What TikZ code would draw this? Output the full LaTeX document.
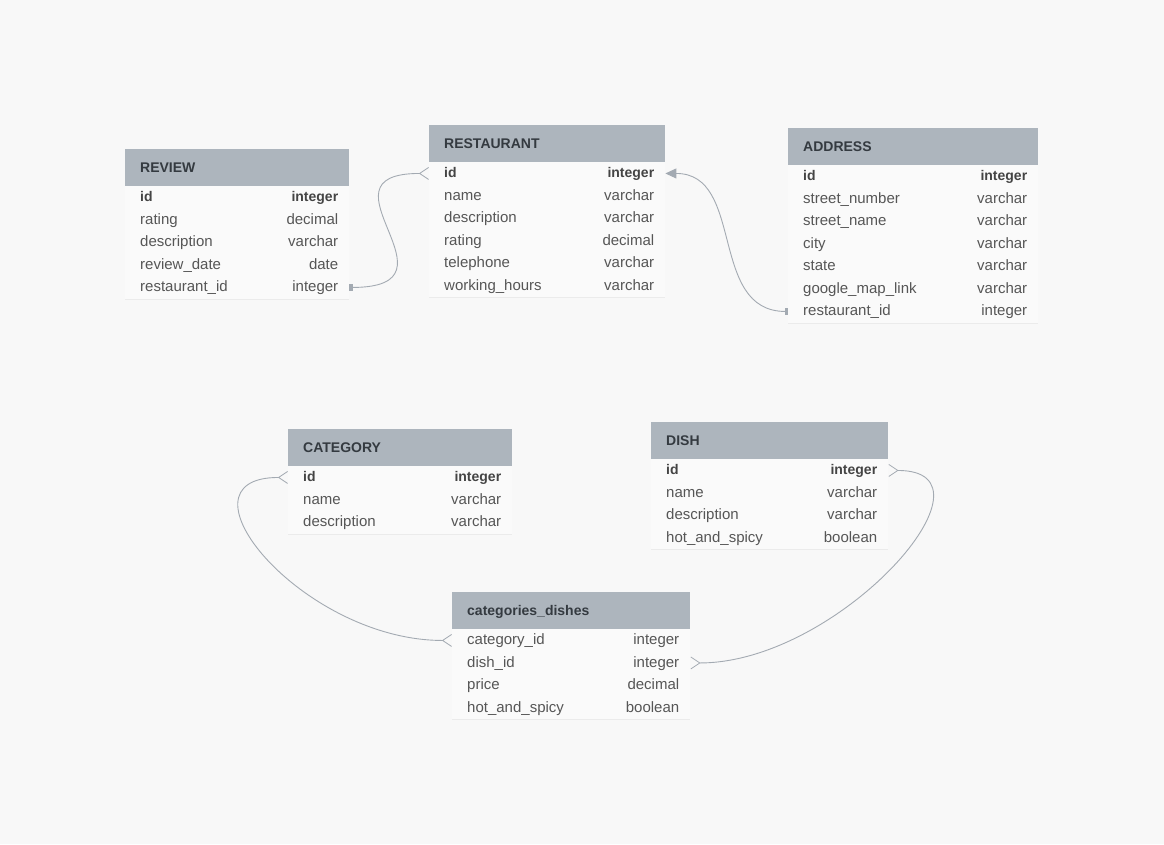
\documentclass[tikz,border=0pt]{standalone}
\usepackage{fontspec}
\setmainfont{Liberation Sans}
\usetikzlibrary{arrows.meta}
\usetikzlibrary{positioning}
\definecolor{bgray}{HTML}{F8F8F8}
\definecolor{hgray}{HTML}{ADB5BD}
\definecolor{rowfill}{HTML}{FAFAFA}
\definecolor{rowline}{HTML}{EBEBEB}
\definecolor{htext}{HTML}{343A40}
\definecolor{ftext}{HTML}{565656}
\definecolor{ktext}{HTML}{444444}
\definecolor{lgray}{HTML}{A3AAB2}
\tikzset{tblhead/.style = {fill=hgray, minimum height=37, inner sep=0, anchor=north west}}
\tikzset{tblrow/.style = {fill=rowfill, minimum height=22.5, inner sep=0, anchor=north west}}
\tikzset{titletxt/.style = {inner sep=0, text height=11pt, text depth=2pt, text=htext,
    font=\fontsize{14}{17}\selectfont\bfseries}}
\tikzset{fieldtxt/.style = {inner sep=0, text height=11pt, text depth=2pt, text=ftext,
    font=\fontsize{15}{18}\selectfont}}
\tikzset{keytxt/.style = {inner sep=0, text height=11pt, text depth=2pt, text=ktext,
    font=\fontsize{14}{17}\selectfont\bfseries}}
\tikzset{link/.style = {draw=lgray, line width=0.9pt}}
\tikzset{crow/.tip = {Straight Barb[reversed, length=9pt, width=12pt, line width=0.8pt]}}
\tikzset{one/.tip = {Rectangle[length=3pt, width=7pt]}}
\tikzset{ref/.tip = {Triangle[length=11pt, width=10pt]}}
% key, x, y, width, title, rows
\newcommand{\erdtable}[6]{%
  \node [tblhead, minimum width=#4] (#1) at (#2,#3) {};
  \node [titletxt, anchor=west] (#1-title) at ([xshift=15pt]#1.west) {#5};
  \foreach \fname/\ftype/\fsty [count=\i] in {#6} {
    \node [tblrow, minimum width=#4] (#1-\i) at (#2,{#3+37+22.5*(\i-1)}) {};
    \draw [rowline] (#1-\i.south west) -- (#1-\i.south east);
    \node [\fsty, anchor=west] (#1-\i-n) at ([xshift=15pt]#1-\i.west) {\fname};
    \node [\fsty, anchor=east] (#1-\i-t) at ([xshift=-11pt]#1-\i.east) {\ftype};
  }
}

\begin{document}
\begin{tikzpicture}[x=1pt, y=-1pt]
    \fill [bgray] (0,0) rectangle (1164,844);
    \useasboundingbox (0,0) rectangle (1164,844);

    \erdtable{review}{125}{149}{224}{REVIEW}{id/integer/keytxt, rating/decimal/fieldtxt,
      description/varchar/fieldtxt, review\_date/date/fieldtxt, restaurant\_id/integer/fieldtxt}
    \erdtable{restaurant}{429}{125}{236}{RESTAURANT}{id/integer/keytxt, name/varchar/fieldtxt,
      description/varchar/fieldtxt, rating/decimal/fieldtxt, telephone/varchar/fieldtxt,
      working\_hours/varchar/fieldtxt}
    \erdtable{address}{788}{128}{250}{ADDRESS}{id/integer/keytxt, street\_number/varchar/fieldtxt,
      street\_name/varchar/fieldtxt, city/varchar/fieldtxt, state/varchar/fieldtxt,
      google\_map\_link/varchar/fieldtxt, restaurant\_id/integer/fieldtxt}
    \erdtable{category}{288}{429}{224}{CATEGORY}{id/integer/keytxt, name/varchar/fieldtxt,
      description/varchar/fieldtxt}
    \erdtable{dish}{651}{422}{237}{DISH}{id/integer/keytxt, name/varchar/fieldtxt,
      description/varchar/fieldtxt, hot\_and\_spicy/boolean/fieldtxt}
    \erdtable{catdish}{452}{592}{238}{categories\_dishes}{category\_id/integer/fieldtxt,
      dish\_id/integer/fieldtxt, price/decimal/fieldtxt, hot\_and\_spicy/boolean/fieldtxt}

    % relations
    \draw [link, one-crow] (review-5.east) .. controls +(120,0) and +(-120,0) .. (restaurant-1.west);
    \draw [link, one-ref] (address-7.west) .. controls +(-80,0) and +(80,0) .. (restaurant-1.east);
    \draw [link, crow-crow] (category-1.west) .. controls +(-120,0) and +(-150,0) .. (catdish-1.west);
    \draw [link, crow-crow] (dish-1.east) .. controls +(120,0) and +(150,0) .. (catdish-2.east);
  \end{tikzpicture}
\end{document}
